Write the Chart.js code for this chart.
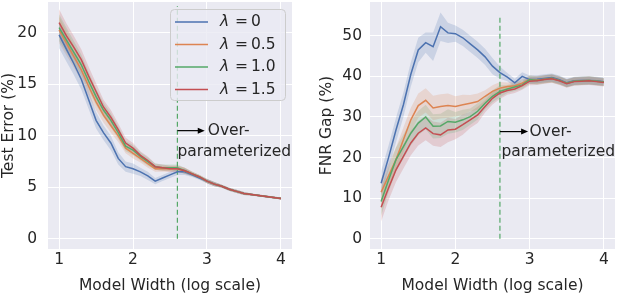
<!DOCTYPE html>
<html>
<head>
<meta charset="utf-8">
<script src="https://cdn.jsdelivr.net/npm/chart.js@4"></script>
<style>
  body { margin: 0; background: #fff; }
  #wrap { width: 618px; height: 296px; position: relative; }
  canvas { position: absolute; top: 0; }
</style>
</head>
<body>
<div id="wrap">
  <canvas id="graficoErro" width="309" height="296" style="left:0"></canvas>
  <canvas id="graficoGap" width="309" height="296" style="left:309px"></canvas>
</div>
<script>
/* model width sweep – test error / FNR gap */

var widths  = [1.0, 1.1, 1.2, 1.3, 1.4, 1.5, 1.6, 1.7, 1.8, 1.9, 2.0, 2.1, 2.2, 2.3, 2.4, 2.5,
               2.6, 2.7, 2.8, 2.9, 3.0, 3.1, 3.2, 3.3, 3.4, 3.5, 3.6, 3.7, 3.8, 3.9, 4.0];
var lambdas = ["0", "0.5", "1.0", "1.5"];
var xTicks  = [1, 2, 3, 4];
var errTicks = [0, 5, 10, 15, 20];
var gapTicks = [0, 10, 20, 30, 40, 50];

/* Test Error (%) – mean per lambda */
var errL0  = [19.8, 18.4, 17.0, 15.5, 13.5, 11.5, 10.3, 9.3, 7.8, 7.0, 6.8, 6.5, 6.1, 5.6, 5.9, 6.2,
              6.5, 6.5, 6.2, 5.9, 5.6, 5.3, 5.1, 4.8, 4.6, 4.4, 4.3, 4.2, 4.1, 4.0, 3.9];
var errL05 = [20.3, 19.0, 17.7, 16.4, 14.8, 13.3, 12.0, 11.0, 10.0, 8.8, 8.3, 7.8, 7.3, 6.8, 6.8, 6.8,
              6.8, 6.6, 6.3, 6.0, 5.6, 5.3, 5.1, 4.8, 4.6, 4.4, 4.3, 4.2, 4.1, 4.0, 3.9];
var errL10 = [20.5, 19.3, 18.1, 16.9, 15.3, 13.8, 12.5, 11.5, 10.3, 9.0, 8.6, 8.0, 7.5, 7.0, 6.9, 6.9,
              6.9, 6.6, 6.3, 6.0, 5.6, 5.3, 5.1, 4.8, 4.6, 4.4, 4.3, 4.2, 4.1, 4.0, 3.9];
var errL15 = [21.0, 19.7, 18.6, 17.4, 15.8, 14.3, 12.8, 11.8, 10.6, 9.3, 8.8, 8.1, 7.6, 7.0, 6.9, 6.8,
              6.8, 6.6, 6.3, 6.0, 5.6, 5.3, 5.1, 4.8, 4.6, 4.4, 4.3, 4.2, 4.1, 4.0, 3.9];
/* shaded spread (same for all lambdas) */
var errStd = [1.3, 1.2, 1.1, 1.0, 0.9, 0.8, 0.7, 0.7, 0.6, 0.5, 0.5, 0.4, 0.4, 0.3, 0.3, 0.3,
              0.3, 0.3, 0.2, 0.2, 0.2, 0.2, 0.15, 0.15, 0.15, 0.15, 0.1, 0.1, 0.1, 0.1, 0.1];

/* FNR Gap (%) – mean per lambda */
var gapL0  = [13.7, 20.0, 26.8, 33.0, 40.5, 46.5, 48.3, 47.3, 52.2, 50.7, 50.5, 49.5, 48.0, 46.5, 44.8, 42.5,
              40.9, 39.8, 38.4, 40.0, 39.2, 39.3, 39.5, 39.7, 39.2, 38.4, 38.9, 39.0, 39.0, 38.9, 38.7];
var gapL05 = [11.5, 15.5, 19.5, 24.4, 29.3, 32.8, 34.1, 32.2, 32.6, 32.8, 32.6, 33.0, 33.4, 33.8, 35.1, 36.3,
              37.1, 37.5, 37.7, 38.3, 39.2, 39.1, 39.3, 39.5, 39.0, 38.3, 38.8, 38.9, 39.0, 38.8, 38.6];
var gapL10 = [9.2, 14.5, 19.5, 22.7, 26.0, 28.5, 30.0, 27.7, 27.8, 28.9, 28.7, 29.3, 30.1, 31.4, 33.4, 35.1,
              36.3, 36.9, 37.4, 37.9, 39.2, 39.0, 39.3, 39.5, 39.0, 38.3, 38.8, 38.9, 39.0, 38.8, 38.6];
var gapL15 = [7.8, 12.5, 17.0, 20.3, 23.6, 26.0, 27.3, 25.9, 25.6, 26.8, 27.0, 28.1, 29.3, 30.5, 32.6, 34.6,
              35.9, 36.5, 36.9, 37.7, 38.8, 38.9, 39.2, 39.4, 38.9, 38.2, 38.7, 38.8, 38.9, 38.7, 38.5];
var gapStdL0 = [3.0, 3.0, 3.0, 3.0, 3.0, 3.0, 2.5, 3.5, 3.5, 2.5, 2.0, 2.0, 2.0, 2.0, 2.0, 2.0,
                1.5, 1.0, 1.0, 1.0, 1.0, 1.0, 1.0, 1.0, 1.0, 1.0, 1.0, 1.0, 1.0, 1.0, 1.0];
var gapStd   = [3.5, 3.0, 3.0, 3.0, 3.0, 3.0, 3.0, 3.0, 3.0, 3.0, 2.5, 2.5, 2.0, 2.0, 1.5, 1.5,
                1.5, 1.0, 1.0, 1.0, 1.0, 1.0, 1.0, 1.0, 1.0, 1.0, 1.0, 1.0, 1.0, 1.0, 1.0];

var overX = 2.6;   /* start of the over-parameterized regime */

var cores = ["#4C72B0", "#DD8452", "#55A868", "#C44E52"];
var FONTE = '"DejaVu Sans", sans-serif';
var TXT   = "#262626";

/* ===== helpers ===== */
function rgba(hex, a) {
  var n = parseInt(hex.slice(1), 16);
  return "rgba(" + (n >> 16) + "," + ((n >> 8) & 255) + "," + (n & 255) + "," + a + ")";
}
function pts(vals, sd, sign) {
  return vals.map(function (v, k) { return { x: widths[k], y: v + sign * (sd ? sd[k] : 0) }; });
}

function montarDatasets(series, stds, dashTop) {
  var sets = [];
  /* bands first: lower then upper filled to previous */
  series.forEach(function (s, i) {
    sets.push({ data: pts(s, stds[i], -1), borderWidth: 0, pointRadius: 0, fill: false, order: 10 + i });
    sets.push({ data: pts(s, stds[i], 1), borderWidth: 0, pointRadius: 0, fill: "-1",
                backgroundColor: rgba(cores[i], 0.2), order: 10 + i });
  });
  series.forEach(function (s, i) {
    sets.push({ label: "λ = " + lambdas[i], data: pts(s, null, 0), borderColor: cores[i],
                borderWidth: 1.5, pointRadius: 0, fill: false, order: 3 - i });
  });
  /* dashed marker */
  sets.push({ data: [{ x: overX, y: 0 }, { x: overX, y: dashTop }], borderColor: cores[2],
              borderWidth: 1.2, borderDash: [5, 3], pointRadius: 0, fill: false, order: 5 });
  return sets;
}

function opcoesPainel(yMin, yMax, yTicks, yTitulo, yLarg, pad, tickPad, titlePad) {
  return {
    responsive: false,
    animation: false,
    layout: { padding: pad },
    plugins: { legend: { display: false }, tooltip: { enabled: false } },
    scales: {
      x: {
        type: "linear", min: 0.85, max: 4.15,
        afterBuildTicks: function (s) { s.ticks = xTicks.map(function (v) { return { value: v }; }); },
        afterFit: function (s) { s.height = 47; s.paddingLeft = 0; s.paddingRight = 0; },
        grid: { color: "#ffffff", lineWidth: 1, drawTicks: false },
        border: { display: false },
        ticks: { color: TXT, font: { family: FONTE, size: 15.5 }, padding: 2, maxRotation: 0 },
        title: { display: true, text: "Model Width (log scale)", color: TXT,
                 font: { family: FONTE, size: 15.5 }, padding: { top: 0, bottom: 1 } }
      },
      y: {
        min: yMin, max: yMax,
        afterBuildTicks: function (s) { s.ticks = yTicks.map(function (v) { return { value: v }; }); },
        afterFit: function (s) { s.width = yLarg; s.paddingTop = 0; s.paddingBottom = 0; },
        grid: { color: "#ffffff", lineWidth: 1, drawTicks: false },
        border: { display: false },
        ticks: { color: TXT, font: { family: FONTE, size: 15.5 }, padding: tickPad },
        title: { display: true, text: yTitulo, color: TXT,
                 font: { family: FONTE, size: 15.5 }, padding: { top: titlePad, bottom: 0 } }
      }
    }
  };
}

/* ===== plugins ===== */
var fundoPlot = {
  id: "fundoPlot",
  beforeDraw: function (chart) {
    var a = chart.chartArea, ctx = chart.ctx;
    ctx.save();
    ctx.fillStyle = "#ffffff";
    ctx.fillRect(0, 0, chart.width, chart.height);
    ctx.fillStyle = "#EAEAF2";
    ctx.fillRect(a.left, a.top, a.right - a.left, a.bottom - a.top);
    ctx.restore();
  }
};

function anotacao(arrowY, arrowEnd, overTxtX, paramX, paramY) {
  return {
    id: "anotacao",
    afterDatasetsDraw: function (chart) {
      var xs = chart.scales.x, ys = chart.scales.y, ctx = chart.ctx;
      var x0 = xs.getPixelForValue(overX), x1 = xs.getPixelForValue(arrowEnd);
      var y0 = ys.getPixelForValue(arrowY);
      ctx.save();
      ctx.strokeStyle = "#000"; ctx.fillStyle = "#000"; ctx.lineWidth = 1.2;
      ctx.beginPath(); ctx.moveTo(x0, y0); ctx.lineTo(x1 - 5, y0); ctx.stroke();
      ctx.beginPath(); ctx.moveTo(x1, y0); ctx.lineTo(x1 - 7, y0 - 3); ctx.lineTo(x1 - 7, y0 + 3);
      ctx.closePath(); ctx.fill();
      ctx.font = "15.5px " + FONTE; ctx.fillStyle = TXT;
      ctx.textBaseline = "middle"; ctx.textAlign = "left";
      ctx.fillText("Over-", xs.getPixelForValue(overTxtX), y0);
      ctx.fillText("parameterized", xs.getPixelForValue(paramX), ys.getPixelForValue(paramY));
      ctx.restore();
    }
  };
}

var legendaBox = {
  id: "legendaBox",
  afterDraw: function (chart) {
    var a = chart.chartArea, ctx = chart.ctx;
    var bw = 115, bh = 91, bx = a.right - 7 - bw, by = a.top + 7;
    ctx.save();
    ctx.beginPath();
    ctx.roundRect(bx + 0.5, by + 0.5, bw, bh, 4);
    ctx.fillStyle = "rgba(234,234,242,0.8)"; ctx.fill();
    ctx.strokeStyle = "#cccccc"; ctx.lineWidth = 1; ctx.stroke();
    ctx.textBaseline = "middle"; ctx.textAlign = "left";
    lambdas.forEach(function (lam, i) {
      var y = by + 13 + i * 22.5;
      ctx.strokeStyle = cores[i]; ctx.lineWidth = 1.5;
      ctx.beginPath(); ctx.moveTo(bx + 5, y); ctx.lineTo(bx + 38, y); ctx.stroke();
      ctx.fillStyle = TXT;
      ctx.font = "italic 15.5px " + FONTE;
      ctx.fillText("λ", bx + 50, y);
      ctx.font = "15.5px " + FONTE;
      ctx.fillText("=", bx + 65, y);
      ctx.fillText(lam, bx + 81, y);
    });
    ctx.restore();
  }
};

/* ===== charts ===== */
new Chart(document.getElementById("graficoErro"), {
  type: "line",
  data: { datasets: montarDatasets([errL0, errL05, errL10, errL15],
                                   [errStd, errStd, errStd, errStd], 22.6) },
  options: opcoesPainel(-1, 23, errTicks, "Test Error (%)", 48,
                        { top: 2, right: 17, left: 0, bottom: 0 }, 11, 0),
  plugins: [fundoPlot, anotacao(10.5, 2.97, 3.01, 2.6, 8.45), legendaBox]
});

new Chart(document.getElementById("graficoGap"), {
  type: "line",
  data: { datasets: montarDatasets([gapL0, gapL05, gapL10, gapL15],
                                   [gapStdL0, gapStd, gapStd, gapStd], 55) },
  options: opcoesPainel(-2.5, 58.3, gapTicks, "FNR Gap (%)", 61,
                        { top: 2, right: 3, left: 0, bottom: 0 }, 8, 9),
  plugins: [fundoPlot, anotacao(26.4, 2.98, 3.0, 2.62, 21.4)]
});
</script>
</body>
</html>
